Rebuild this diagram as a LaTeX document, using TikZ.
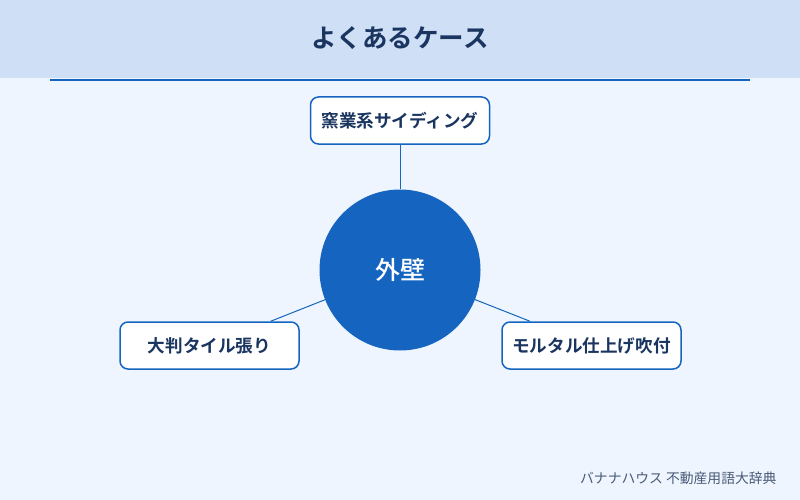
\documentclass[tikz,border=0pt]{standalone}
\usepackage{fontspec}
\setmainfont{Noto Sans CJK JP}
\newfontfamily\jpbold{Noto Sans CJK JP}[UprightFont=* Bold]
\newfontfamily\jpmed{Noto Sans CJK JP}[UprightFont=* Medium]
\definecolor{bg}{HTML}{EEF5FE}
\definecolor{hdr}{HTML}{CFDFF5}
\definecolor{mainblue}{HTML}{1565C0}
\definecolor{navy}{HTML}{1A3560}
\definecolor{foot}{HTML}{4A5A78}
\begin{document}
\begin{tikzpicture}[x=1pt,y=-1pt,
  leaf/.style={draw=mainblue, line width=1.5pt, fill=white, rounded corners=8pt,
    minimum width=179pt, minimum height=47pt, inner sep=0pt,
    text=navy, font=\jpbold\fontsize{17.6}{20}\selectfont},
  link/.style={draw=mainblue, line width=1pt}]
\useasboundingbox (0,0) rectangle (800,500);
\fill[bg] (0,0) rectangle (800,500);
\fill[hdr] (0,0) rectangle (800,78);
\draw[mainblue, line width=2pt] (50,80) -- (750,80);
\node[text=navy, font=\jpbold\fontsize{25.5}{30}\selectfont] (title) at (400,38) {よくあるケース};
\node[circle, fill=mainblue, minimum size=161pt, inner sep=0pt, text=white,
  font=\jpmed\fontsize{25}{30}\selectfont] (center) at (400,270) {外壁};
\node[leaf] (top) at (400,120.5) {窯業系サイディング};
\node[leaf] (left) at (209.5,345.5) {大判タイル張り};
\node[leaf] (right) at (591.5,345.5) {モルタル仕上げ吹付};
\draw[link] (top) -- (center);
\draw[link] (center) -- (left);
\draw[link] (center) -- (right);
\node[anchor=east, text=foot, font=\fontsize{13.8}{16}\selectfont] (footer) at (780,478) {バナナハウス 不動産用語大辞典};
\end{tikzpicture}
\end{document}
